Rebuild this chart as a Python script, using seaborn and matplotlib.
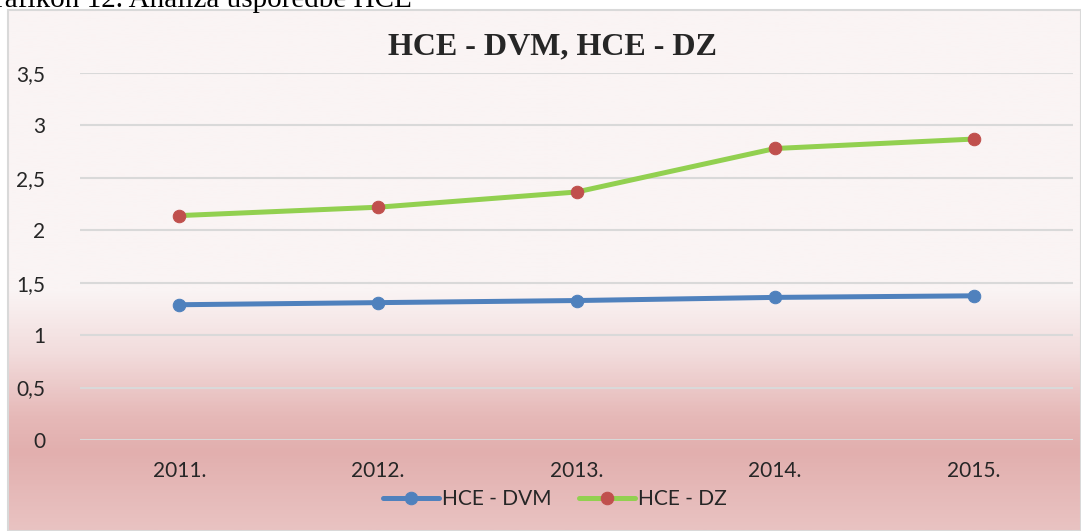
import numpy as np
import pandas as pd
import matplotlib
matplotlib.use("Agg")
import matplotlib.pyplot as plt
from matplotlib.colors import LinearSegmentedColormap
from matplotlib.patches import Rectangle
import seaborn as sns

# Data
years = ['2011.', '2012.', '2013.', '2014.', '2015.']
hce_dvm = [1.29, 1.31, 1.33, 1.36, 1.375]
hce_dz = [2.14, 2.22, 2.365, 2.78, 2.87]
y_ticks = [0, 0.5, 1, 1.5, 2, 2.5, 3, 3.5]
y_labels = ['0', '0,5', '1', '1,5', '2', '2,5', '3', '3,5']

sns.set_theme(style="white")
plt.rcParams['font.family'] = ['Lato', 'DejaVu Sans']

W, H = 1081, 531
fig = plt.figure(figsize=(W / 100, H / 100), dpi=100)
fig.patch.set_facecolor('white')

# Gradient background of the chart frame
bg = fig.add_axes([8 / W, 0, 1 - 8 / W, 1 - 10 / H])
bg.set_axis_off()
cmap = LinearSegmentedColormap.from_list(
    'bg', [(0.0, '#FAF4F4'), (0.54, '#FAF4F4'), (0.66, '#F2DCDC'),
           (0.78, '#E6B9B8'), (0.85, '#E2AFAE'), (1.0, '#E9C3C2')])
grad = np.linspace(0, 1, 400).reshape(-1, 1)
bg.imshow(grad, aspect='auto', cmap=cmap, extent=[0, 1, 0, 1], origin='upper')
bg.set_xlim(0, 1)
bg.set_ylim(0, 1)
bg.add_patch(Rectangle((0, 0), 1, 1, transform=bg.transAxes, fill=False,
                       edgecolor='#D9D9D9', lw=1.5, clip_on=False))

# Caption cut off at the top of the picture (as in the source page)
fig.text(412 / W, 1 - 7 / H, 'Grafikon 12. Analiza usporedbe HCE', ha='right', va='baseline',
         fontsize=21, family=['Liberation Serif', 'DejaVu Serif'], color='black')

# Main plot
ax = fig.add_axes([80 / W, 1 - 440 / H, (1073 - 80) / W, (440 - 73) / H])
ax.patch.set_alpha(0)

df = pd.DataFrame({'year': years, 'dvm': hce_dvm, 'dz': hce_dz})
sns.lineplot(data=df, x='year', y='dvm', ax=ax, color='#4F81BD', lw=3.6, marker='o',
             markersize=9, markerfacecolor='#4F81BD', markeredgecolor='#4F81BD',
             label='HCE - DVM', sort=False, zorder=3)
sns.lineplot(data=df, x='year', y='dz', ax=ax, color='#92D050', lw=3.6, marker='o',
             markersize=9, markerfacecolor='#C0504D', markeredgecolor='#C0504D',
             label='HCE - DZ', sort=False, zorder=3)

ax.set_xlim(-0.5, len(years) - 0.5)
ax.set_ylim(0, 3.5)
ax.set_yticks(y_ticks)
ax.set_yticklabels(y_labels)
ax.yaxis.grid(True, color='#D9D9D9', lw=1.5)
ax.xaxis.grid(False)
for s in ax.spines.values():
    s.set_visible(False)
ax.tick_params(axis='y', length=0, pad=25, labelsize=15)
ax.tick_params(axis='x', length=0, pad=15, labelsize=15)
ax.set_xlabel('')
ax.set_ylabel('')

fig.text(552 / W, 1 - 47 / H, 'HCE - DVM, HCE - DZ', ha='center', va='center',
         fontsize=23, fontweight='bold', family=['Liberation Serif', 'DejaVu Serif'])

ax.legend(loc='center', bbox_to_anchor=(555 / W, 1 - 499 / H), bbox_transform=fig.transFigure,
          ncol=2, frameon=False, fontsize=15, handlelength=2.7, columnspacing=1.3,
          handletextpad=0.15, borderpad=0)

fig.savefig('out.png', dpi=100)
